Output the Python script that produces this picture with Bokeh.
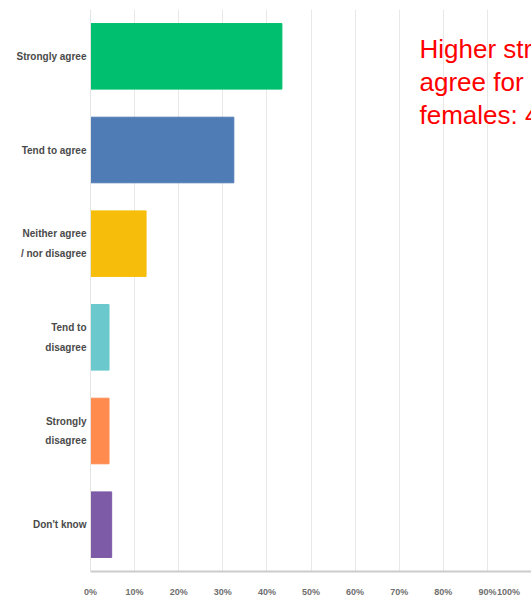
from bokeh.plotting import figure
from bokeh.models import ColumnDataSource, FactorRange, FixedTicker, Range1d
from bokeh.core.properties import value
from bokeh.embed import file_html
from bokeh.resources import INLINE

categories = ["Strongly agree", "Tend to agree", "Neither agree\n/ nor disagree",
              "Tend to\ndisagree", "Strongly\ndisagree", "Don't know"]
percentages = [43.4, 32.5, 12.6, 4.2, 4.2, 4.8]
colors = ["#00BF6F", "#507CB6", "#F6BE0A", "#6BC8CD", "#FF8B4F", "#7D5BA6"]
tick_values = [0, 10, 20, 30, 40, 50, 60, 70, 80, 90]
tick_labels = ["0%", "10%", "20%", "30%", "40%", "50%", "60%", "70%", "80%", "90%"]
extra_tick = 94.8
extra_label = "100%"
note_text = "Higher strongly\nagree for\nfemales: 48%"
note_x = 74.6

src = ColumnDataSource(dict(cat=categories, pct=percentages, color=colors))

p = figure(frame_width=441, frame_height=562, output_backend="svg", toolbar_location=None,
           y_range=FactorRange(factors=categories[::-1]),
           x_range=Range1d(0, 100),
           min_border_left=90, min_border_right=0, min_border_top=9,
           min_border_bottom=29)
p.outline_line_color = None
p.background_fill_color = "white"

p.hbar(y="cat", right="pct", left=0, height=0.7, color="color", source=src)

p.text(x=[note_x], y=[categories[0]], text=[note_text], text_color="#FF0000",
       text_font=value("Liberation Sans"), text_font_size="26px",
       text_baseline="top", text_align="left", text_line_height=1.1,
       y_offset=-22)

label_font = "Liberation Sans"

xt = tick_values + [extra_tick]
p.xaxis.ticker = FixedTicker(ticks=xt)
p.xaxis.major_label_overrides = {v: l for v, l in zip(tick_values, tick_labels)} | {extra_tick: extra_label}
p.xgrid.ticker = FixedTicker(ticks=tick_values)
p.xgrid.grid_line_color = "#e8e8e8"
p.ygrid.grid_line_color = None

p.xaxis.axis_line_color = "#cccccc"
p.xaxis.axis_line_width = 2
p.xaxis.major_tick_line_color = None
p.xaxis.minor_tick_line_color = None
p.xaxis.major_tick_out = 0
p.xaxis.major_tick_in = 0
p.xaxis.major_label_standoff = 15
p.xaxis.major_label_text_font = label_font
p.xaxis.major_label_text_font_size = "9px"
p.xaxis.major_label_text_font_style = "bold"
p.xaxis.major_label_text_color = "#6f6f6f"

p.yaxis.axis_line_color = "#e3e3e3"
p.yaxis.major_tick_line_color = None
p.yaxis.minor_tick_line_color = None
p.yaxis.major_tick_out = 0
p.yaxis.major_tick_in = 0
p.yaxis.major_label_standoff = 4
p.yaxis.major_label_text_font = label_font
p.yaxis.major_label_text_font_size = "10px"
p.yaxis.major_label_text_font_style = "bold"
p.yaxis.major_label_text_color = "#4a4a4a"
p.yaxis.major_label_text_line_height = 1.8

open("out.html", "w").write(file_html(p, INLINE))
